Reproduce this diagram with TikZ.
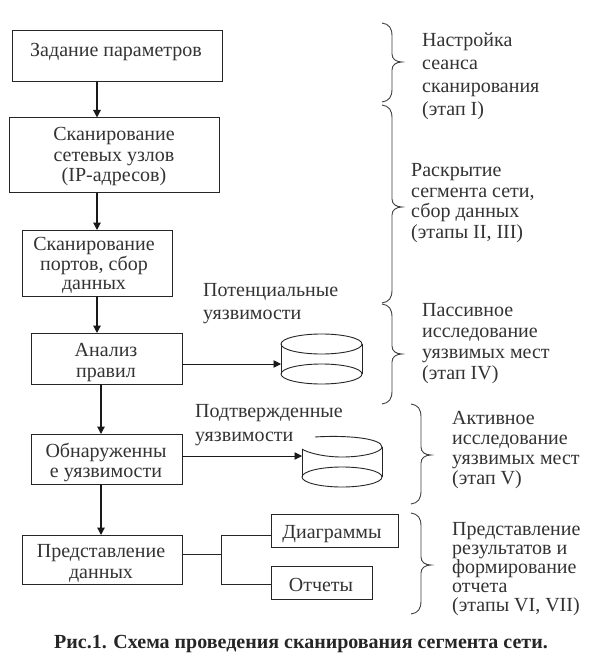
\documentclass[tikz,border=0pt]{standalone}
\usepackage{fontspec}
\setmainfont{Liberation Serif}
\usetikzlibrary{arrows.meta}
\tikzset{
  x=1pt,y=-1pt,
  boxn/.style={draw=black!85,line width=1pt,anchor=north west,inner sep=0pt,outer sep=0pt},
  boxtext/.style={align=center,inner sep=0pt,text=black!80,font=\fontsize{20}{20.5}\selectfont},
  lab/.style={align=left,anchor=west,inner sep=0pt,text=black!80,font=\fontsize{20}{23}\selectfont},
  labb/.style={align=left,anchor=west,inner sep=0pt,text=black!80,font=\fontsize{20}{19.2}\selectfont},
  arr/.style={draw=black!90,line width=1.2pt,-{Triangle[length=7.5pt,width=7.5pt]}},
  arrh/.style={draw=black!90,line width=.9pt,-{Triangle[length=7.5pt,width=7.5pt]}},
  wire/.style={draw=black!85,line width=.9pt},
  brc/.style={draw=black!75,line width=.9pt},
  cyl/.style={draw=black!85,line width=.9pt}
}
\newcommand{\bracedraw}[4]{% x of ends, top, tip y, bottom
  \draw[brc] (#1,#2) .. controls (#1+7,#2+1) and (#1+10,#2+5) .. (#1+10,#2+13)
    -- (#1+10,#3-8) .. controls (#1+10,#3-3) and (#1+14,#3) .. (#1+20,#3)
    .. controls (#1+14,#3) and (#1+10,#3+3) .. (#1+10,#3+8)
    -- (#1+10,#4-13) .. controls (#1+10,#4-5) and (#1+7,#4-1) .. (#1,#4);
}
\begin{document}
\begin{tikzpicture}
\useasboundingbox[fill=white] (0,0) rectangle (593,655);
% boxes
\node[boxn,minimum width=210pt,minimum height=51pt] (b1) at (12,31) {};
\node[boxn,minimum width=210pt,minimum height=75pt] (b2) at (9.5,117.5) {};
\node[boxn,minimum width=150pt,minimum height=66pt] (b3) at (22,230) {};
\node[boxn,minimum width=151pt,minimum height=51pt] (b4) at (31,333) {};
\node[boxn,minimum width=151pt,minimum height=50pt] (b5) at (31,434) {};
\node[boxn,minimum width=160pt,minimum height=49pt] (b6) at (22,535) {};
\node[boxn,minimum width=127pt,minimum height=33pt] (d1) at (271,514) {};
\node[boxn,minimum width=101pt,minimum height=33pt] (d2) at (271,566) {};
% box texts
\node[boxtext] (t1) at (116,52) {Задание параметров};
\node[boxtext] (t2) at (114,157) {Сканирование\\сетевых узлов\\(IP-адресов)};
\node[boxtext,font=\fontsize{20}{19.5}\selectfont] (t3) at (94,265.5) {Сканирование\\портов, сбор\\данных};
\node[boxtext] (t4) at (106,362.5) {Анализ\\правил};
\node[boxtext] (t5) at (106,462.5) {Обнаруженны\\е уязвимости};
\node[boxtext] (t6) at (101,563.5) {Представление\\данных};
\node[boxtext] (t7) at (332,534) {Диаграммы};
\node[boxtext] (t8) at (321,585) {Отчеты};
% labels
\node[lab] (l1) at (203,304) {Потенциальные\\уязвимости};
\node[lab,font=\fontsize{20}{24}\selectfont] (l2) at (195,425) {Подтвержденные\\уязвимости};
\node[lab] (r1) at (422,76) {Настройка\\сеанса\\сканирования\\(этап I)};
\node[labb,font=\fontsize{20}{20.8}\selectfont] (r2) at (411,203) {Раскрытие\\сегмента сети,\\сбор данных\\(этапы II, III)};
\node[labb,font=\fontsize{20}{21}\selectfont] (r3) at (422,343.5) {Пассивное\\исследование\\уязвимых мест\\(этап IV)};
\node[labb,font=\fontsize{20}{19.8}\selectfont] (r4) at (452,450) {Активное\\исследование\\уязвимых мест\\(этап V)};
\node[labb] (r5) at (452,569) {Представление\\результатов и\\формирование\\отчета\\(этапы VI, VII)};
\node[font=\bfseries\fontsize{20}{20}\selectfont,text=black!85,inner sep=0pt] (capt) at (301,644) {Рис.1. Схема проведения сканирования сегмента сети.};
% cylinders
\coordinate (c1) at (281,364);
\coordinate (c2) at (302,456);
\draw[cyl] (321.5,344) ellipse [x radius=40.5pt,y radius=10pt];
\draw[cyl] (281,344) -- (281,374) (362,344) -- (362,374);
\draw[cyl] (321.5,374) ellipse [x radius=40.5pt,y radius=10pt];
\draw[cyl] (315,437) .. controls (345,435) and (382,438) .. (382,447)
   .. controls (382,452) and (364,457) .. (342,457)
   .. controls (322,457) and (306,452) .. (302,449);
\draw[cyl] (302,449) -- (302,477) (382,447) -- (382,477);
\draw[cyl] (342,477) ellipse [x radius=40pt,y radius=10pt];
% connectors
\coordinate (xa) at (97,0);
\coordinate (xb) at (101,0);
\draw[arr] (xa |- b1.south) -- (xa |- b2.north);
\draw[arr] (xa |- b2.south) -- (xa |- b3.north);
\draw[arr] (xa |- b3.south) -- (xa |- b4.north);
\draw[arr] (xb |- b4.south) -- (xb |- b5.north);
\draw[arr] (xb |- b5.south) -- (xb |- b6.north);
\draw[arrh] (b4.east |- c1) -- (c1);
\draw[arrh] (b5.east |- c2) -- (c2);
\coordinate (j) at (221.7,554);
\coordinate (ju) at (221.7,535);
\coordinate (jd) at (221.7,584);
\draw[wire] (b6.east |- j) -- (j);
\draw[wire] (d1.west |- ju) -- (ju) -- (jd) -- (d2.west |- jd);
% braces
\bracedraw{382}{23}{62}{102}
\bracedraw{382}{105}{207}{303}
\bracedraw{382}{304}{354}{404}
\bracedraw{411}{404}{455}{504}
\bracedraw{411}{513}{565}{614}
\end{tikzpicture}
\end{document}
